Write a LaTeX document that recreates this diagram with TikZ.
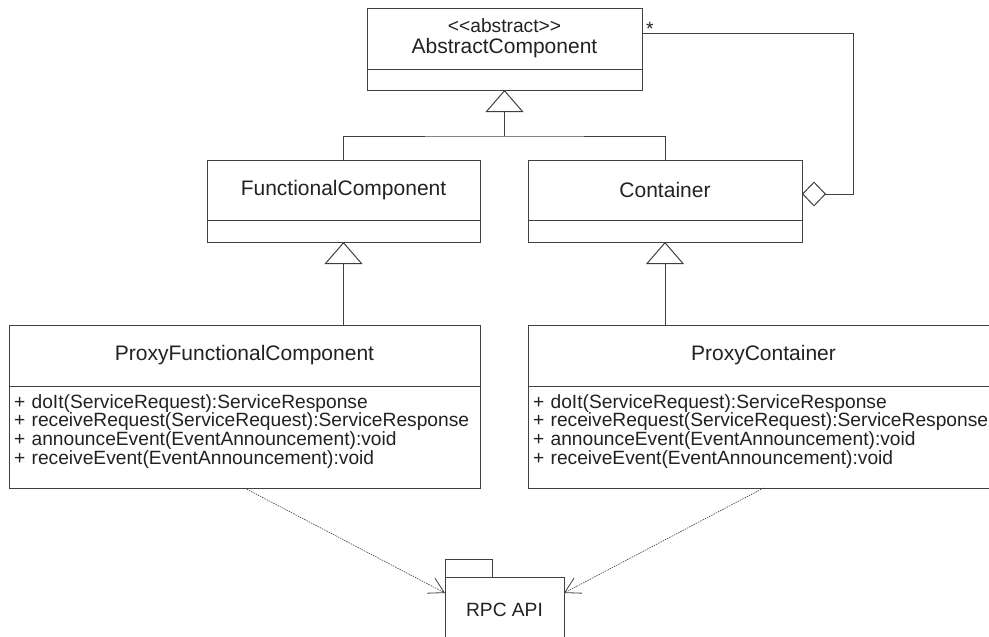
\documentclass[tikz,border=0pt]{standalone}
\usepackage{fontspec}
\setmainfont{Liberation Sans}
\usetikzlibrary{arrows.meta,positioning}

\definecolor{umlline}{HTML}{404040}
\definecolor{umltext}{HTML}{222222}
\newcommand{\namefont}{\fontsize{21}{24}\selectfont}
\newcommand{\opfont}{\fontsize{19.2}{18.8}\selectfont}
\newcommand{\proxyops}{+ doIt(ServiceRequest):ServiceResponse\\
  + receiveRequest(ServiceRequest):ServiceResponse\\
  + announceEvent(EventAnnouncement):void\\
  + receiveEvent(EventAnnouncement):void}

\tikzset{
  classhead/.style={draw=umlline,line width=1pt,fill=white,inner sep=0pt,outer sep=0pt,
    minimum height=61pt,align=center,font=\namefont,text=umltext},
  classbody/.style={draw=umlline,line width=1pt,fill=white,inner sep=0pt,outer sep=0pt,
    font=\opfont,text=umltext},
  opsbody/.style={classbody,minimum width=471pt,minimum height=102pt,
    text width=461pt,align=left,text height=14pt,text depth=72pt},
  link/.style={draw=umlline,line width=1pt},
  inherit/.style={link,-{Triangle[open,length=22pt,width=38pt]}},
  aggregate/.style={link,-{Diamond[open,length=24pt,width=25pt]}},
  depend/.style={draw=umlline,line width=0.6pt,dash pattern=on 1.5pt off 1pt,
    -{Straight Barb[length=15pt,width=17pt,line width=0.8pt]}}
}

\begin{document}
\begin{tikzpicture}[x=1pt,y=-1pt]
  \useasboundingbox (0,0) rectangle (989,637);
  % classes
  \node[classhead,minimum width=275pt] (ac) at (504.5,38.5)
    {{\opfont <\kern0pt<abstract>\kern0pt>}\\[-3pt]AbstractComponent};
  \node[classbody,minimum width=275pt,minimum height=21pt,below=0pt of ac] (acb) {};
  \node[classhead,minimum width=273pt,minimum height=60pt] (fc) at (343.5,190) {FunctionalComponent};
  \node[classbody,minimum width=273pt,minimum height=22pt,below=0pt of fc] (fcb) {};
  \node[classhead,minimum width=274pt,minimum height=60pt] (cn) at (665,190) {Container};
  \node[classbody,minimum width=274pt,minimum height=22pt,below=0pt of cn] (cnb) {};
  \node[classhead,minimum width=471pt] (pfc) at (244.5,355.5) {ProxyFunctionalComponent};
  \node[opsbody,below=0pt of pfc] (pfcb) {\proxyops};
  \node[classhead,minimum width=471pt] (pcn) at (763.5,355.5) {ProxyContainer};
  \node[opsbody,below=0pt of pcn] (pcnb) {\proxyops};
  % package
  \node[classhead,minimum width=119pt,minimum height=66pt,font=\opfont] (rpc) at (504.5,610) {RPC API};
  \node[classbody,minimum width=47pt,minimum height=18pt,anchor=south west] (tab) at (rpc.north west) {};
  % generalisation
  \coordinate (join) at (acb.south |- 0,136);
  \draw[link] (fc.north) |- (join) -| (cn.north);
  \draw[inherit] (join) -- (acb.south);
  \draw[inherit] (fcb.south |- pfc.north) -- (fcb.south);
  \draw[inherit] (cnb.south |- pcn.north) -- (cnb.south);
  % aggregation
  \draw[aggregate] ([yshift=-25pt]ac.north east) -- ++(211,0) |- ([yshift=-34pt]cn.north east);
  \node[anchor=base west,font=\opfont,text=umltext,inner sep=0pt] (mult)
    at ([xshift=4pt,yshift=-27pt]ac.north east) {*};
  % dependencies
  \draw[depend] (pfcb.south) -- ([yshift=-16pt]rpc.north west);
  \draw[depend] (pcnb.south) -- ([yshift=-16pt]rpc.north east);
\end{tikzpicture}
\end{document}
